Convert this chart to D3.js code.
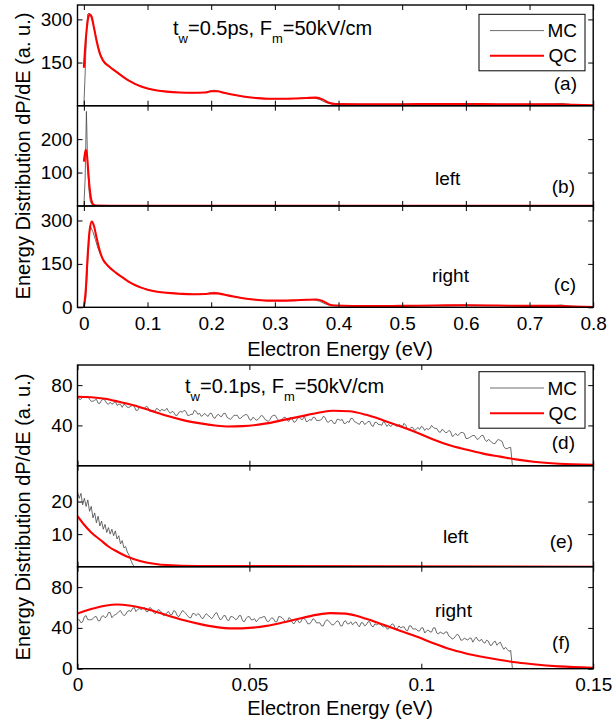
<!DOCTYPE html>
<html>
<head>
<meta charset="utf-8">
<script src="https://cdn.jsdelivr.net/npm/d3@7"></script>
<style>
  body { margin: 0; background: #fff; }
  svg { display: block; font-family: "Liberation Sans", Arial, sans-serif; }
</style>
</head>
<body>
<div class="chart"></div>
<script>
// ---- data ----
// top group: t_w = 0.5ps, energies in eV, [E, dP/dE]
const qcA = [[0,132],[0.003,230],[0.006,295],[0.009,318],[0.012,310],[0.016,270],[0.02,225],[0.025,182],[0.03,157],[0.04,136],[0.05,119],[0.06,103],[0.07,88],[0.08,76],[0.09,67],[0.1,60],[0.115,53],[0.13,49],[0.15,46],[0.17,45],[0.19,46],[0.2,50],[0.21,50],[0.22,45],[0.235,38],[0.25,32],[0.27,27],[0.29,24],[0.31,24],[0.33,25],[0.35,27],[0.365,28],[0.375,22],[0.385,10],[0.395,6],[0.45,5],[0.5,5],[0.55,6],[0.6,6],[0.65,5],[0.7,5],[0.74,5],[0.77,3],[0.8,1]];
const mcA = [[0,0],[0.002,110],[0.004,250],[0.006,318],[0.008,322],[0.011,312],[0.014,288],[0.018,250],[0.022,210],[0.026,178],[0.03,160],[0.035,148],[0.04,137],[0.05,121],[0.06,104],[0.07,89],[0.08,77],[0.09,68],[0.1,60],[0.115,53],[0.13,49],[0.15,46],[0.17,45],[0.19,46],[0.2,52],[0.205,54],[0.21,51],[0.22,45],[0.235,38],[0.25,32],[0.27,27],[0.29,24],[0.31,24],[0.33,25],[0.35,27],[0.36,28],[0.37,22],[0.38,11],[0.39,6],[0.45,5],[0.5,5],[0.55,6],[0.6,7],[0.65,5],[0.7,5],[0.74,6],[0.75,8],[0.76,5],[0.78,2],[0.8,1]];
const qcB = [[0,133],[0.002,160],[0.003,168],[0.005,150],[0.007,100],[0.009,55],[0.011,25],[0.013,10],[0.016,3],[0.02,1],[0.05,0.5],[0.8,0.5]];
const mcB = [[0,0],[0.002,80],[0.004,283],[0.005,200],[0.006,120],[0.008,50],[0.01,15],[0.013,3],[0.02,1],[0.8,0.5]];
const qcC = [[0,0],[0.003,60],[0.006,180],[0.009,265],[0.0125,296],[0.016,280],[0.02,240],[0.025,195],[0.03,165],[0.035,150],[0.04,138],[0.05,120],[0.06,104],[0.07,89],[0.08,77],[0.09,68],[0.1,61],[0.115,54],[0.13,50],[0.15,47],[0.17,45],[0.19,46],[0.2,48],[0.21,48],[0.22,44],[0.235,37],[0.25,31],[0.27,26],[0.29,23],[0.31,23],[0.33,24],[0.35,26],[0.365,27],[0.375,22],[0.385,10],[0.395,6],[0.45,4],[0.5,5],[0.55,6],[0.6,7],[0.65,6],[0.7,5],[0.74,5],[0.77,3],[0.8,1]];
const mcC = [[0,0],[0.003,30],[0.006,150],[0.009,265],[0.011,276],[0.014,262],[0.018,235],[0.022,205],[0.027,178],[0.032,160],[0.04,139],[0.05,121],[0.06,105],[0.07,90],[0.08,77],[0.09,68],[0.1,61],[0.115,54],[0.13,50],[0.15,47],[0.17,45],[0.19,46],[0.2,50],[0.205,52],[0.21,49],[0.22,44],[0.235,37],[0.25,31],[0.27,26],[0.29,23],[0.31,23],[0.33,24],[0.35,26],[0.36,27],[0.37,21],[0.38,11],[0.39,6],[0.45,4],[0.5,5],[0.55,6],[0.6,8],[0.65,6],[0.7,5],[0.74,6],[0.75,8],[0.76,5],[0.78,2],[0.8,1]];

// bottom group: t_w = 0.1ps
const qcD = [[0,68.5],[0.004,68],[0.008,66.5],[0.012,63.5],[0.0163,60],[0.021,55],[0.026,49.5],[0.031,45],[0.0358,42],[0.04,40],[0.0435,39],[0.048,39.3],[0.055,42],[0.06,45.5],[0.065,49],[0.07,52.5],[0.0745,54.5],[0.079,54],[0.084,50.5],[0.089,45],[0.094,39],[0.099,32.5],[0.1035,26],[0.108,20.5],[0.113,16],[0.118,12],[0.123,9],[0.128,6],[0.1326,4],[0.14,2],[0.15,1]];
const qcE = [[0,15.5],[0.002,12.8],[0.004,10.5],[0.0067,8.2],[0.009,6.2],[0.0116,4.6],[0.014,3.3],[0.0165,2.3],[0.02,1.3],[0.026,0.5],[0.035,0.2],[0.15,0]];
const qcF = [[0,54],[0.004,58.5],[0.008,61.8],[0.0115,63],[0.015,62],[0.02,58.5],[0.026,52.5],[0.031,47.5],[0.0357,43.7],[0.04,41],[0.0454,39.5],[0.05,40],[0.055,42],[0.06,45.5],[0.065,49.5],[0.0707,53.5],[0.0736,54.5],[0.078,54],[0.084,49],[0.089,43],[0.094,37],[0.099,31],[0.1035,25],[0.108,19.5],[0.113,15],[0.118,11.5],[0.123,8.5],[0.128,6],[0.1326,4.3],[0.14,2.3],[0.15,1]];

// MC histograms, one value per energy bin starting at 0
const mcStep = 0.0005;
const mcD = [69,66,66,68,68,68,69,66,64,64,65,66,62,62,65,66,65,62,61,63,
  61,62,64,60,61,61,58,61,60,58,58,59,60,59,55,55,58,58,57,57,
  59,58,54,54,55,54,57,56,54,56,55,55,57,54,52,54,53,50,50,53,
  54,53,55,54,50,50,51,51,55,54,51,52,49,50,52,50,49,52,52,48,
  47,50,51,49,49,52,52,48,47,46,48,50,50,50,47,47,49,50,51,50,
  46,45,48,47,45,46,48,50,49,46,45,44,46,49,50,50,47,45,45,46,
  48,48,45,44,48,46,43,44,47,48,46,46,49,44,44,46,45,48,48,45,
  45,45,46,49,48,44,43,45,45,42,42,46,46,45,46,42,42,44,43,47,
  47,44,43,42,41,44,44,41,42,44,44,40,39,43,43,41,41,40,44,42,
  39,41,39,40,42,40,39,41,40,39,42,40,36,36,38,38,35,36,38,36,
  39,38,35,37,36,37,40,38,37,37,34,33,36,35,33,33,35,34,29,30,
  32,30,31,33,33,32,27,27,28,29,30,30,27,26,28,30,30,26,24,26,
  25,23,22,22,25,26,25,24,19,17,17,18,18,0];
const mcF = [48,48,45,46,51,52,48,48,48,49,51,51,47,47,51,52,50,51,55,55,
  50,52,53,54,56,57,54,52,53,56,57,56,59,60,56,58,59,58,59,60,
  56,56,60,59,56,54,55,58,57,55,52,53,55,56,53,53,57,56,52,51,
  54,57,56,54,52,50,50,54,54,52,54,53,50,49,52,54,52,51,49,51,
  54,55,51,48,49,52,52,48,47,51,51,50,48,49,52,52,47,46,49,51,
  51,48,48,49,46,48,50,50,51,51,47,46,48,50,49,46,46,51,51,50,
  48,46,46,50,49,45,44,47,48,45,46,50,49,47,44,44,46,49,48,45,
  45,45,42,42,46,48,47,45,43,43,45,47,46,42,42,46,47,44,44,46,
  43,45,46,43,41,45,45,42,43,46,46,42,41,44,43,44,44,42,41,42,
  39,39,42,44,43,39,39,42,40,41,41,38,37,42,42,39,39,39,37,37,
  40,40,35,37,38,36,36,40,40,35,34,36,35,34,36,36,32,31,29,30,
  32,34,32,28,28,30,29,28,30,30,26,29,31,28,27,29,26,25,28,27,
  23,23,26,27,23,25,26,22,19,21,19,17,18,0];
const mcE = [23,21,22.5,19,21,18.5,20.5,17,18.5,15,16.5,13.5,15.5,12.5,14,11.5,13,10.5,12,10,11.5,9.5,11,8.5,9.5,7,8,5.8,6.2,4.5,3.5,2,0.8,0];

const xTicksTop = [0, 0.1, 0.2, 0.3, 0.4, 0.5, 0.6, 0.7, 0.8];
const xTicksBot = [0, 0.05, 0.1, 0.15];

// ---- layout ----
const width = 612, height = 721;
const left = 77.5, right = 593.2;
const font = 19;

const svg = d3.select(".chart").append("svg")
  .attr("width", width).attr("height", height)
  .style("background-color", "#FFFFFF");

const xTop = d3.scaleLinear().domain([-0.01, 0.8]).range([left, right]);
const xBot = d3.scaleLinear().domain([0, 0.15]).range([left, right]);

const lineOf = (x, y, curve) => d3.line().x(d => x(d[0])).y(d => y(d[1])).curve(curve);
const binned = (vals, step) => vals.map((v, i) => [i * step, v]);

function panel(name, x, top, bottom, yDomain, yTicks, xTicks, showX, mc, qc) {
  const y = d3.scaleLinear().domain(yDomain).range([bottom, top]);
  svg.append("clipPath").attr("id", "clip-" + name)
     .append("rect").attr("x", left).attr("y", top)
     .attr("width", right - left).attr("height", bottom - top);
  const g = svg.append("g");
  const plot = g.append("g").attr("clip-path", "url(#clip-" + name + ")");
  plot.append("path").datum(mc)
      .attr("d", lineOf(x, y, d3.curveLinear))
      .attr("fill", "none").attr("stroke", "#454545").attr("stroke-width", 0.8);
  plot.append("path").datum(qc)
      .attr("d", lineOf(x, y, d3.curveMonotoneX))
      .attr("fill", "none").attr("stroke", "#ff0000").attr("stroke-width", 2.1);

  //axes, MATLAB style inward ticks
  g.append("g").attr("transform", "translate(" + left + ",0)")
    .call(d3.axisLeft(y).tickValues(yTicks).tickSizeInner(-5).tickSizeOuter(0).tickPadding(5));
  g.append("g").attr("transform", "translate(" + right + ",0)")
    .call(d3.axisRight(y).tickValues(yTicks).tickSizeInner(-5).tickSizeOuter(0).tickFormat(""));
  g.append("g").attr("transform", "translate(0," + top + ")")
    .call(d3.axisTop(x).tickValues(xTicks).tickSizeInner(-5).tickSizeOuter(0).tickFormat(""));
  g.append("g").attr("transform", "translate(0," + bottom + ")")
    .call(d3.axisBottom(x).tickValues(xTicks).tickSizeInner(-5).tickSizeOuter(0).tickPadding(9)
      .tickFormat(showX ? d => String(d) : ""));
  g.selectAll(".domain").remove();
  g.selectAll(".tick line").attr("stroke", "#000").attr("stroke-width", 1);
  g.selectAll(".tick text").attr("font-size", font).attr("fill", "#000")
   .attr("font-family", "'Liberation Sans', Arial, sans-serif");
  g.append("rect").attr("x", left).attr("y", top)
   .attr("width", right - left).attr("height", bottom - top)
   .attr("fill", "none").attr("stroke", "#000").attr("stroke-width", 1.4);
  return g;
}

// top group
panel("a", xTop, 5, 105.7, [0, 350], [150, 300], xTicksTop, false, mcA, qcA);
panel("b", xTop, 105.7, 206, [0, 300], [100, 200], xTicksTop, false, mcB, qcB);
panel("c", xTop, 206, 307.3, [0, 350], [0, 150, 300], xTicksTop, true, mcC, qcC);
// bottom group
panel("d", xBot, 365, 465.7, [0, 100], [40, 80], xTicksBot, false, binned(mcD, mcStep), qcD);
panel("e", xBot, 465.7, 566.7, [0, 31], [10, 20], xTicksBot, false, binned(mcE, mcStep), qcE);
panel("f", xBot, 566.7, 668.7, [0, 100], [0, 40, 80], xTicksBot, true, binned(mcF, mcStep), qcF);

// axis titles
function text(x, y, s, size, anchor) {
  return svg.append("text").attr("x", x).attr("y", y).attr("font-size", size)
    .attr("text-anchor", anchor || "start").attr("fill", "#000").text(s);
}
text(340, 356, "Electron Energy (eV)", 20, "middle");
text(340, 715, "Electron Energy (eV)", 20, "middle");
svg.append("text").attr("transform", "translate(30,156) rotate(-90)")
   .attr("text-anchor", "middle").attr("font-size", 20).text("Energy Distribution dP/dE (a. u.)");
svg.append("text").attr("transform", "translate(30,517) rotate(-90)")
   .attr("text-anchor", "middle").attr("font-size", 20).text("Energy Distribution dP/dE (a. u.)");

// condition labels with subscripts
function condition(x, y, tw) {
  const t = svg.append("text").attr("x", x).attr("y", y).attr("font-size", 20);
  t.append("tspan").text("t");
  t.append("tspan").attr("dy", 8).attr("font-size", 13).text("w");
  t.append("tspan").attr("dy", -8).text("=" + tw + "ps, F");
  t.append("tspan").attr("dy", 8).attr("font-size", 13).text("m");
  t.append("tspan").attr("dy", -8).text("=50kV/cm");
}
condition(173, 35, "0.5");
condition(185, 393, "0.1");

// legends
function legend(y0) {
  svg.append("rect").attr("x", 479).attr("y", y0).attr("width", 106).attr("height", 56.5)
     .attr("fill", "#fff").attr("stroke", "#000").attr("stroke-width", 1);
  svg.append("line").attr("x1", 490).attr("x2", 544).attr("y1", y0 + 16.3).attr("y2", y0 + 16.3)
     .attr("stroke", "#454545").attr("stroke-width", 0.8);
  svg.append("line").attr("x1", 490).attr("x2", 544).attr("y1", y0 + 41.5).attr("y2", y0 + 41.5)
     .attr("stroke", "#ff0000").attr("stroke-width", 2.1);
  text(577, y0 + 23, "MC", 19, "end");
  text(577, y0 + 48, "QC", 19, "end");
}
legend(14.3);
legend(371.7);

// panel annotations
text(577, 90, "(a)", 19, "end");
text(575, 193, "(b)", 19, "end");
text(576, 291, "(c)", 19, "end");
text(435, 185, "left", 19);
text(432, 282, "right", 19);
text(575, 449, "(d)", 19, "end");
text(573, 548, "(e)", 19, "end");
text(570, 649, "(f)", 19, "end");
text(443, 543, "left", 19);
text(435, 617, "right", 19);
</script>
</body>
</html>
